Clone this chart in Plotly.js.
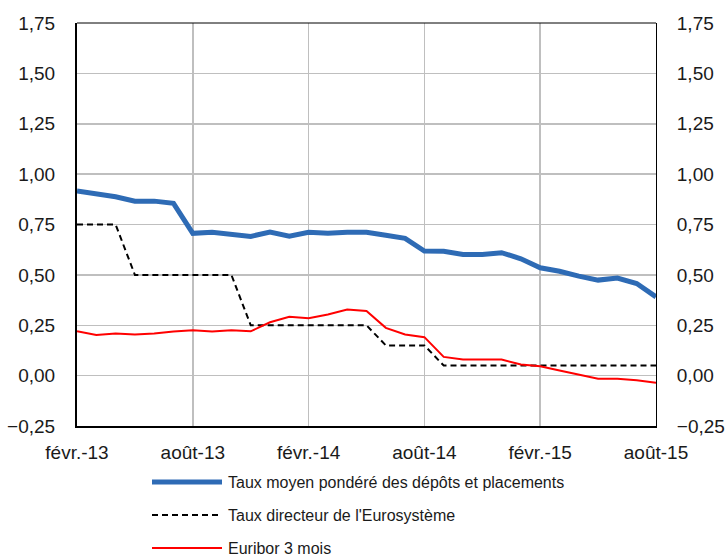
<!DOCTYPE html>
<html>
<head>
<meta charset="utf-8">
<script src="https://cdn.plot.ly/plotly-3.0.1.min.js"></script>
<style>html,body{margin:0;padding:0;background:#fff;}#chart{width:725px;height:556px;}</style>
</head>
<body>
<div id="chart"></div>
<script>
// Monthly categories, Feb 2013 – Aug 2015
const months = [
  'févr.-13','mars-13','avr.-13','mai-13','juin-13','juil.-13','août-13','sept.-13','oct.-13','nov.-13','déc.-13',
  'janv.-14','févr.-14','mars-14','avr.-14','mai-14','juin-14','juil.-14','août-14','sept.-14','oct.-14','nov.-14','déc.-14',
  'janv.-15','févr.-15','mars-15','avr.-15','mai-15','juin-15','juil.-15','août-15'
];
const tickLabels = ['févr.-13','août-13','févr.-14','août-14','févr.-15','août-15'];

const seriesNames = [
  'Taux moyen pondéré des dépôts et placements',
  "Taux directeur de l'Eurosystème",
  'Euribor 3 mois'
];

const tauxMoyen = [0.916,0.905,0.888,0.866,0.866,0.855,0.706,0.712,0.704,0.691,0.712,0.692,0.711,0.706,0.712,0.712,
  0.697,0.681,0.618,0.617,0.601,0.601,0.610,0.580,0.535,0.518,0.494,0.474,0.484,0.457,0.391];
const tauxDirecteur = [0.75,0.75,0.75,0.50,0.50,0.50,0.50,0.50,0.50,0.25,0.25,0.25,0.25,0.25,0.25,0.25,
  0.15,0.15,0.15,0.05,0.05,0.05,0.05,0.05,0.05,0.05,0.05,0.05,0.05,0.05,0.05];
const euribor3m = [0.220,0.202,0.209,0.204,0.209,0.219,0.225,0.219,0.225,0.220,0.265,0.292,0.285,0.303,0.328,0.321,
  0.237,0.204,0.191,0.093,0.080,0.080,0.080,0.055,0.046,0.025,0.005,-0.015,-0.015,-0.023,-0.036];

const yTicks = [-0.25,0,0.25,0.5,0.75,1,1.25,1.5,1.75];

const styles = [
  {color:'#2E6BB5', width:5, dash:'solid'},
  {color:'#000000', width:2, dash:'6px,4px'},
  {color:'#FF0000', width:2, dash:'solid'}
];
const values = [tauxMoyen, tauxDirecteur, euribor3m];
const axesFor = ['y', 'y', 'y2'];

const traces = values.map((v,i)=>({
  type:'scatter', mode:'lines', x:months, y:v, name:seriesNames[i], yaxis:axesFor[i],
  line:{color:styles[i].color, width:styles[i].width, dash:styles[i].dash},
  showlegend:false, hoverinfo:'skip'
}));
const data = [traces[1], traces[0], traces[2]];

const font = {family:'Liberation Sans, Arial, sans-serif', color:'#1a1a1a'};

// custom legend (long line samples like the source)
const legRowsPx = [482, 515, 548];
const plotTop = 23, plotH = 403, plotL = 77, plotW = 579;
const py = p => (plotTop + plotH - p) / plotH;
const px = p => (p - plotL) / plotW;
const shapes = [
  {type:'line', xref:'paper', yref:'paper', x0:0, x1:1, y0:1, y1:1, line:{color:'#000', width:1}}
];
const annotations = [];
seriesNames.forEach((n,i)=>{
  shapes.push({type:'line', xref:'paper', yref:'paper', x0:px(152), x1:px(222), y0:py(legRowsPx[i]), y1:py(legRowsPx[i]),
    line:{color:styles[i].color, width:styles[i].width, dash:styles[i].dash}});
  annotations.push({xref:'paper', yref:'paper', x:px(226), y:py(legRowsPx[i]), xanchor:'left', yanchor:'middle',
    text:n, showarrow:false, font:Object.assign({}, font, {size:16})});
});

const yCommon = {
  range:[-0.25,1.75], tickvals:yTicks, tickformat:'.2f', ticks:'',
  tickfont:Object.assign({}, font, {size:19}), zeroline:false, fixedrange:true, ticklabelstandoff:16
};

const layout = {
  width:725, height:556,
  margin:{l:77, r:69, t:23, b:130},
  paper_bgcolor:'#fff', plot_bgcolor:'#fff',
  separators:', ',
  showlegend:false,
  xaxis:{type:'category', range:[0,30], tickvals:tickLabels, ticktext:tickLabels, ticks:'',
    showgrid:true, gridcolor:'#BFBFBF', gridwidth:1.5,
    showline:true, linecolor:'#000', linewidth:2, zeroline:false,
    tickfont:Object.assign({}, font, {size:19}), ticklabelstandoff:8, fixedrange:true},
  yaxis:Object.assign({}, yCommon, {side:'left', showgrid:true, gridcolor:'#BFBFBF', gridwidth:1.5,
    showline:true, linecolor:'#000', linewidth:2}),
  yaxis2:Object.assign({}, yCommon, {side:'right', overlaying:'y', showgrid:false,
    showline:true, linecolor:'#000', linewidth:1}),
  shapes:shapes,
  annotations:annotations
};

Plotly.newPlot('chart', data, layout, {displayModeBar:false, staticPlot:true});
</script>
</body>
</html>
